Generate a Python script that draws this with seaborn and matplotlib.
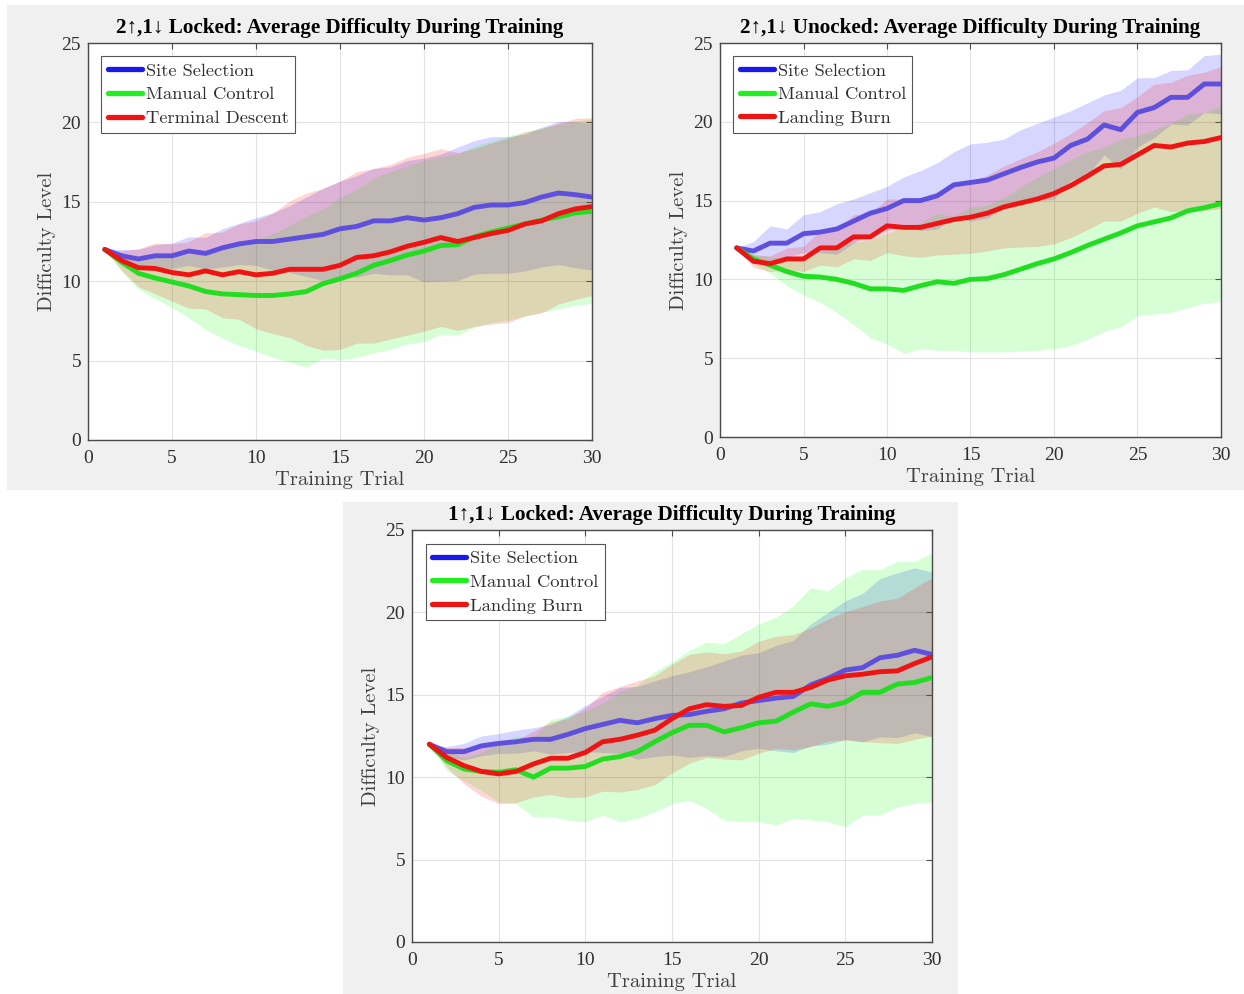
import numpy as np
import pandas as pd
import matplotlib
matplotlib.use("Agg")
import matplotlib.pyplot as plt
from matplotlib.patches import Rectangle
from matplotlib.lines import Line2D
import seaborn as sns

trials = list(range(1, 31))

# ---- 2 up / 1 down, locked ----
lk21_site_mean = [12.0, 11.6, 11.4, 11.6, 11.6, 11.9, 11.75, 12.1, 12.35, 12.5, 12.5, 12.65, 12.8, 12.95, 13.3,
                  13.45, 13.8, 13.8, 14.0, 13.85, 14.0, 14.25, 14.65, 14.8, 14.8, 14.95, 15.3, 15.55, 15.45, 15.3]
lk21_site_sd = [0, 0.4, 0.6, 0.7, 0.8, 0.9, 1.0, 1.2, 1.3, 1.5, 1.8, 2.1, 2.5, 2.9, 3.0,
                3.2, 3.3, 3.4, 3.6, 3.9, 4.0, 4.2, 4.2, 4.3, 4.3, 4.3, 4.4, 4.5, 4.6, 4.6]
lk21_manual_mean = [12.0, 11.2, 10.5, 10.2, 9.95, 9.7, 9.35, 9.2, 9.15, 9.1, 9.1, 9.2, 9.35, 9.85, 10.15,
                    10.5, 11.0, 11.3, 11.65, 11.9, 12.25, 12.3, 12.8, 13.1, 13.35, 13.6, 13.85, 14.05, 14.3, 14.4]
lk21_manual_sd = [0, 0.6, 1.0, 1.3, 1.6, 2.0, 2.4, 2.8, 3.2, 3.5, 3.9, 4.3, 4.75, 4.7, 5.1,
                  5.3, 5.5, 5.6, 5.6, 5.7, 5.6, 5.7, 5.7, 5.7, 5.8, 5.8, 5.8, 5.8, 5.8, 5.8]
lk21_terminal_mean = [12.0, 11.3, 10.85, 10.8, 10.55, 10.4, 10.65, 10.4, 10.6, 10.4, 10.5, 10.75, 10.75, 10.75, 11.0,
                      11.5, 11.6, 11.85, 12.2, 12.45, 12.75, 12.5, 12.75, 13.0, 13.2, 13.6, 13.8, 14.25, 14.55, 14.7]
lk21_terminal_sd = [0, 0.6, 1.2, 1.6, 1.8, 2.1, 2.4, 2.7, 3.0, 3.4, 3.8, 4.3, 4.8, 5.1, 5.3,
                    5.4, 5.5, 5.5, 5.6, 5.6, 5.6, 5.6, 5.6, 5.7, 5.8, 5.8, 5.8, 5.7, 5.7, 5.6]

# ---- 2 up / 1 down, unlocked ----
ul21_site_mean = [12.0, 11.8, 12.3, 12.3, 12.9, 13.0, 13.2, 13.7, 14.2, 14.5, 15.0, 15.0, 15.3, 16.0, 16.15,
                  16.3, 16.7, 17.1, 17.45, 17.7, 18.5, 18.9, 19.8, 19.5, 20.6, 20.9, 21.55, 21.55, 22.4, 22.4]
ul21_site_sd = [0, 0.6, 1.1, 0.9, 1.2, 1.3, 1.6, 1.4, 1.3, 1.4, 1.5, 1.9, 2.1, 2.1, 2.45,
                2.4, 2.2, 2.4, 2.45, 2.6, 2.2, 2.3, 1.9, 2.5, 2.2, 1.9, 1.7, 1.75, 1.8, 1.9]
ul21_manual_mean = [12.0, 11.3, 10.9, 10.5, 10.2, 10.15, 10.0, 9.75, 9.4, 9.4, 9.3, 9.6, 9.85, 9.75, 10.0,
                    10.05, 10.3, 10.65, 11.0, 11.3, 11.7, 12.15, 12.55, 12.95, 13.4, 13.65, 13.9, 14.35, 14.55, 14.8]
ul21_manual_sd = [0, 0.3, 0.5, 0.9, 1.2, 1.6, 2.1, 2.6, 3.1, 3.5, 4.0, 4.0, 4.35, 4.25, 4.6,
                  4.65, 4.9, 5.2, 5.5, 5.7, 5.9, 5.95, 5.85, 5.95, 5.7, 5.85, 6.0, 6.15, 6.05, 6.2]
ul21_landing_mean = [12.0, 11.15, 11.0, 11.3, 11.3, 12.0, 12.0, 12.7, 12.7, 13.4, 13.3, 13.3, 13.55, 13.8, 13.95,
                     14.2, 14.6, 14.85, 15.1, 15.45, 15.95, 16.55, 17.2, 17.3, 17.9, 18.5, 18.4, 18.65, 18.75, 19.0]
ul21_landing_sd = [0, 0.4, 0.5, 0.7, 0.8, 1.1, 1.2, 1.4, 1.5, 1.7, 1.8, 1.9, 2.0, 2.2, 2.3,
                   2.4, 2.6, 2.8, 3.0, 3.2, 3.3, 3.4, 3.5, 3.6, 3.7, 3.9, 4.1, 4.3, 4.4, 4.5]

# ---- 1 up / 1 down, locked ----
lk11_site_mean = [12.0, 11.55, 11.55, 11.9, 12.05, 12.15, 12.3, 12.3, 12.6, 12.95, 13.2, 13.45, 13.3, 13.55, 13.75,
                  13.8, 14.0, 14.15, 14.5, 14.65, 14.8, 14.9, 15.6, 16.0, 16.5, 16.65, 17.25, 17.4, 17.7, 17.45]
lk11_site_sd = [0, 0.3, 0.5, 0.6, 0.6, 0.7, 0.7, 0.9, 1.1, 1.4, 1.7, 2.0, 2.2, 2.3, 2.4,
                2.6, 2.7, 2.9, 2.9, 2.9, 3.2, 3.4, 3.7, 4.0, 4.2, 4.5, 4.8, 5.0, 5.0, 5.0]
lk11_manual_mean = [12.0, 11.0, 10.5, 10.35, 10.3, 10.45, 10.0, 10.55, 10.55, 10.65, 11.1, 11.25, 11.55, 12.15, 12.7,
                    13.15, 13.15, 12.75, 13.0, 13.3, 13.4, 13.95, 14.45, 14.3, 14.55, 15.15, 15.15, 15.65, 15.75, 16.05]
lk11_manual_sd = [0, 0.6, 0.7, 1.15, 1.8, 2.05, 2.4, 2.95, 3.15, 3.35, 3.4, 3.95, 4.05, 4.25, 4.3,
                  4.55, 5.05, 5.35, 5.7, 6.0, 6.3, 6.45, 7.05, 7.0, 7.55, 7.45, 7.45, 7.45, 7.35, 7.55]
lk11_landing_mean = [12.0, 11.2, 10.7, 10.35, 10.2, 10.35, 10.8, 11.15, 11.15, 11.5, 12.15, 12.3, 12.55, 12.85, 13.55,
                     14.15, 14.4, 14.3, 14.35, 14.85, 15.15, 15.15, 15.45, 15.9, 16.15, 16.25, 16.4, 16.45, 16.9, 17.3]
lk11_landing_sd = [0, 0.6, 1.1, 1.5, 1.8, 1.9, 2.0, 2.2, 2.4, 2.7, 3.0, 3.2, 3.3, 3.3, 3.3,
                   3.3, 3.2, 3.2, 3.3, 3.4, 3.4, 3.5, 3.6, 3.7, 3.9, 4.1, 4.3, 4.4, 4.6, 4.8]

x_ticks = [0, 5, 10, 15, 20, 25, 30]
y_ticks = [0, 5, 10, 15, 20, 25]

sns.set_style("white")
plt.rcParams["font.family"] = ["Liberation Serif", "DejaVu Serif"]

LINE_COLORS = ["#5e4fdc", "#22dd22", "#ee1414"]     # colours of the plotted means
KEY_COLORS = ["#1a1ae8", "#22ee22", "#ee1414"]      # colours in the legend key
BAND_COLORS = ["#0000ff", "#00ff00", "#ff0000"]
TEXT_GREY = "#303030"
LABEL_FONT = "cmr10"

W, H = 1244, 994
fig = plt.figure(figsize=(W / 100, H / 100), dpi=100)
fig.patch.set_facecolor("white")

# grey figure backgrounds behind each plot
for (x0, y0, x1, y1) in [(7, 5, W, 490), (343, 502, 958, H)]:
    fig.add_artist(Rectangle((x0 / W, 1 - y1 / H), (x1 - x0) / W, (y1 - y0) / H,
                             transform=fig.transFigure, facecolor="#f0f0f0",
                             edgecolor="none", zorder=-10))


def add_axes_px(left, right, top, bottom):
    return fig.add_axes([left / W, 1 - bottom / H, (right - left) / W, (bottom - top) / H])


def draw_panel(ax, title, names, means, sds):
    rows = []
    for name, m in zip(names, means):
        for t, v in zip(trials, m):
            rows.append({"trial": t, "level": v, "task": name})
    df = pd.DataFrame(rows)

    for name, m, s, bc in zip(names, means, sds, BAND_COLORS):
        m = np.asarray(m)
        s = np.asarray(s)
        ax.fill_between(trials, m - s, m + s, color=bc, alpha=0.16, linewidth=0, zorder=2)

    sns.lineplot(data=df, x="trial", y="level", hue="task", hue_order=names,
                 palette=dict(zip(names, LINE_COLORS)), linewidth=3.5, ax=ax,
                 legend=False, estimator=None, sort=False, zorder=3)

    ax.set_xlim(0, 30)
    ax.set_ylim(0, 25)
    ax.set_xticks(x_ticks)
    ax.set_yticks(y_ticks)
    ax.set_facecolor("white")
    ax.grid(True, color="#e3e3e3", linewidth=0.8, zorder=1)
    ax.set_axisbelow(True)
    for sp in ax.spines.values():
        sp.set_visible(True)
        sp.set_color("#4a4a4a")
        sp.set_linewidth(1.0)
    ax.tick_params(direction="in", length=4, width=0.8, color="#4a4a4a",
                   top=True, right=True, labelsize=14, labelcolor=TEXT_GREY)
    ax.tick_params(axis="x", pad=7)
    ax.tick_params(axis="y", pad=5)

    ax.set_title(title, fontsize=15.2, fontweight="bold", color="black", pad=7,
                 family=["Liberation Serif", "DejaVu Serif"])
    ax.set_xlabel("Training Trial", fontsize=14.8, color="#404040", family=LABEL_FONT, labelpad=3)
    ax.set_ylabel("Difficulty Level", fontsize=14.8, color="#404040", family=LABEL_FONT, labelpad=4)

    handles = [Line2D([0], [0], color=c, linewidth=3.8) for c in KEY_COLORS]
    leg = ax.legend(handles, names, loc="upper left", bbox_to_anchor=(0.026, 0.967),
                    borderaxespad=0, frameon=True, fancybox=False, framealpha=1,
                    edgecolor="#555555", handlelength=1.85, handletextpad=0.2,
                    labelspacing=0.42, borderpad=0.36,
                    prop={"family": LABEL_FONT, "size": 13.3})
    leg.get_frame().set_linewidth(0.8)
    for txt in leg.get_texts():
        txt.set_color("#303030")


ax1 = add_axes_px(88, 592, 43, 440)
draw_panel(ax1, "2↑,1↓ Locked: Average Difficulty During Training",
           ["Site Selection", "Manual Control", "Terminal Descent"],
           [lk21_site_mean, lk21_manual_mean, lk21_terminal_mean],
           [lk21_site_sd, lk21_manual_sd, lk21_terminal_sd])

ax2 = add_axes_px(720, 1221, 43, 437)
draw_panel(ax2, "2↑,1↓ Unocked: Average Difficulty During Training",
           ["Site Selection", "Manual Control", "Landing Burn"],
           [ul21_site_mean, ul21_manual_mean, ul21_landing_mean],
           [ul21_site_sd, ul21_manual_sd, ul21_landing_sd])

ax3 = add_axes_px(412, 932, 530, 942)
draw_panel(ax3, "1↑,1↓ Locked: Average Difficulty During Training",
           ["Site Selection", "Manual Control", "Landing Burn"],
           [lk11_site_mean, lk11_manual_mean, lk11_landing_mean],
           [lk11_site_sd, lk11_manual_sd, lk11_landing_sd])

fig.savefig("out.png", dpi=100, facecolor=fig.get_facecolor())
